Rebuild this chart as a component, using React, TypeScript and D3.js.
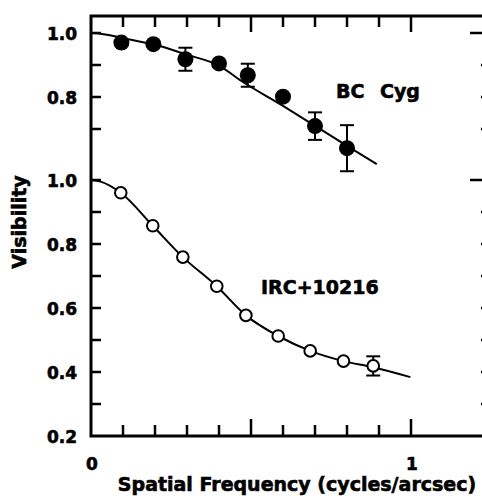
import { useEffect, useRef } from "react";
import * as d3 from "d3";

// BC Cyg (filled circles, upper panel)
const bcFreq = [0.095, 0.195, 0.295, 0.4, 0.49, 0.6, 0.7, 0.8];
const bcVis = [0.97, 0.965, 0.918, 0.905, 0.868, 0.801, 0.709, 0.64];
const bcErr = [0, 0, 0.036, 0, 0.036, 0, 0.043, 0.072];
const bcFitFreq = [0, 0.03, 0.1, 0.2, 0.3, 0.4, 0.47, 0.6, 0.7, 0.8, 0.893];
const bcFitVis = [1.0, 0.998, 0.984, 0.963, 0.932, 0.898, 0.85, 0.772, 0.71, 0.647, 0.59];

// IRC+10216 (open circles, lower panel)
const ircFreq = [0.093, 0.193, 0.287, 0.393, 0.484, 0.585, 0.685, 0.789, 0.882];
const ircVis = [0.96, 0.857, 0.759, 0.668, 0.577, 0.5125, 0.466, 0.434, 0.419];
const ircErr = [0, 0, 0, 0, 0, 0, 0, 0, 0.03];
const ircFitFreq = [0, 0.03, 0.093, 0.193, 0.287, 0.393, 0.484, 0.585, 0.685, 0.789, 0.882, 0.998];
const ircFitVis = [1.0, 0.995, 0.96, 0.857, 0.759, 0.668, 0.577, 0.5125, 0.466, 0.434, 0.415, 0.384];

// ticks
const xMinorTicks = [0.1, 0.2, 0.3, 0.4, 0.6, 0.7, 0.8, 0.9];
const xMajorTicks = [0.5, 1.0];
const xTickLabels = ["0", "1"];
const upperTicks = [0.7, 0.8, 0.9, 1.0];
const upperLabels = ["0.8", "1.0"];
const lowerTicks = [0.3, 0.4, 0.5, 0.6, 0.7, 0.8, 0.9, 1.0];
const lowerLabels = ["0.2", "0.4", "0.6", "0.8", "1.0"];

const FONT = "'DejaVu Sans', sans-serif";

export default function App() {
  const ref = useRef<SVGSVGElement>(null);

  useEffect(() => {
    const svg = d3.select(ref.current);
    svg.selectAll("*").remove();

    // scales
    const x = d3.scaleLinear().domain([0, 1.25]).range([91, 491]);
    const yUp = d3.scaleLinear().domain([0.7, 1.0]).range([129, 33]);
    const yLo = d3.scaleLinear().domain([0.2, 1.0]).range([436, 180]);

    // frame
    svg.append("rect")
      .attr("x", x(0)).attr("y", 16)
      .attr("width", x(1.25) - x(0)).attr("height", 436 - 16)
      .attr("fill", "none").attr("stroke", "#000").attr("stroke-width", 3);

    const tick = (x1: number, y1: number, x2: number, y2: number) =>
      svg.append("line")
        .attr("x1", x1).attr("y1", y1).attr("x2", x2).attr("y2", y2)
        .attr("stroke", "#000").attr("stroke-width", 2.5);

    // top & bottom ticks
    xMinorTicks.forEach(v => {
      tick(x(v), 16, x(v), 27);
      tick(x(v), 436, x(v), 425);
    });
    xMajorTicks.forEach(v => {
      tick(x(v), 16, x(v), 32);
      tick(x(v), 436, x(v), 419);
    });

    // left & right ticks
    upperTicks.forEach(v => {
      tick(x(0), yUp(v), x(0) + 10, yUp(v));
      tick(x(1.25), yUp(v), x(1.25) - (v === 1.0 ? 21 : 10), yUp(v));
    });
    lowerTicks.forEach(v => {
      tick(x(0), yLo(v), x(0) + 10, yLo(v));
      tick(x(1.25), yLo(v), x(1.25) - (v === 1.0 ? 21 : 10), yLo(v));
    });

    // text helper (a thin stroke to get the heavy lettering)
    const label = (tx: number, ty: number, s: string, anchor: string, size: number) =>
      svg.append("text")
        .attr("x", tx).attr("y", ty)
        .attr("text-anchor", anchor)
        .attr("font-family", FONT).attr("font-weight", "bold")
        .attr("font-size", size).attr("fill", "#000")
        .attr("stroke", "#000").attr("stroke-width", 0.6)
        .text(s);

    upperLabels.forEach(s => label(77, yUp(+s) + 7, s, "end", 17));
    lowerLabels.forEach(s => label(77, yLo(+s) + 7, s, "end", 17));
    xTickLabels.forEach(s => label(x(+s) + 1, 470, s, "middle", 17));

    // axis titles
    label(297, 491, "Spatial Frequency (cycles/arcsec)", "middle", 19);
    label(0, 0, "Visibility", "middle", 19)
      .attr("transform", "translate(26, 222) rotate(-90)");

    // fitted curves
    const bcLine = d3.line<number>()
      .x((d, i) => x(bcFitFreq[i]))
      .y(d => yUp(d))
      .curve(d3.curveMonotoneX);
    svg.append("path")
      .attr("d", bcLine(bcFitVis))
      .attr("fill", "none").attr("stroke", "#000").attr("stroke-width", 2);

    const ircLine = d3.line<number>()
      .x((d, i) => x(ircFitFreq[i]))
      .y(d => yLo(d))
      .curve(d3.curveMonotoneX);
    svg.append("path")
      .attr("d", ircLine(ircFitVis))
      .attr("fill", "none").attr("stroke", "#000").attr("stroke-width", 2);

    // error bars
    const errBar = (cx: number, lo: number, hi: number) => {
      tick(cx, lo, cx, hi).attr("stroke-width", 2);
      tick(cx - 7, lo, cx + 7, lo).attr("stroke-width", 2);
      tick(cx - 7, hi, cx + 7, hi).attr("stroke-width", 2);
    };
    bcFreq.forEach((f, i) => {
      if (bcErr[i] > 0) errBar(x(f), yUp(bcVis[i] - bcErr[i]), yUp(bcVis[i] + bcErr[i]));
    });
    ircFreq.forEach((f, i) => {
      if (ircErr[i] > 0) errBar(x(f), yLo(ircVis[i] - ircErr[i]), yLo(ircVis[i] + ircErr[i]));
    });

    // points
    svg.selectAll(".bc")
      .data(bcVis).enter()
      .append("circle")
      .attr("class", "bc")
      .attr("cx", (d, i) => x(bcFreq[i]))
      .attr("cy", d => yUp(d))
      .attr("r", 8)
      .attr("fill", "#000");

    svg.selectAll(".irc")
      .data(ircVis).enter()
      .append("circle")
      .attr("class", "irc")
      .attr("cx", (d, i) => x(ircFreq[i]))
      .attr("cy", d => yLo(d))
      .attr("r", 5.8)
      .attr("fill", "#fff")
      .attr("stroke", "#000").attr("stroke-width", 2);

    // source names
    const bcText = svg.append("text")
      .attr("y", 98)
      .attr("font-family", FONT).attr("font-weight", "bold")
      .attr("font-size", 19).attr("fill", "#000")
      .attr("stroke", "#000").attr("stroke-width", 0.6);
    bcText.append("tspan").attr("x", 336).text("BC");
    bcText.append("tspan").attr("x", 380).text("Cyg");

    label(261, 294, "IRC+10216", "start", 19);
  }, []);

  return (
    <svg
      ref={ref}
      width={482}
      height={504}
      style={{ position: "absolute", left: 0, top: 0, background: "#fff" }}
    />
  );
}
